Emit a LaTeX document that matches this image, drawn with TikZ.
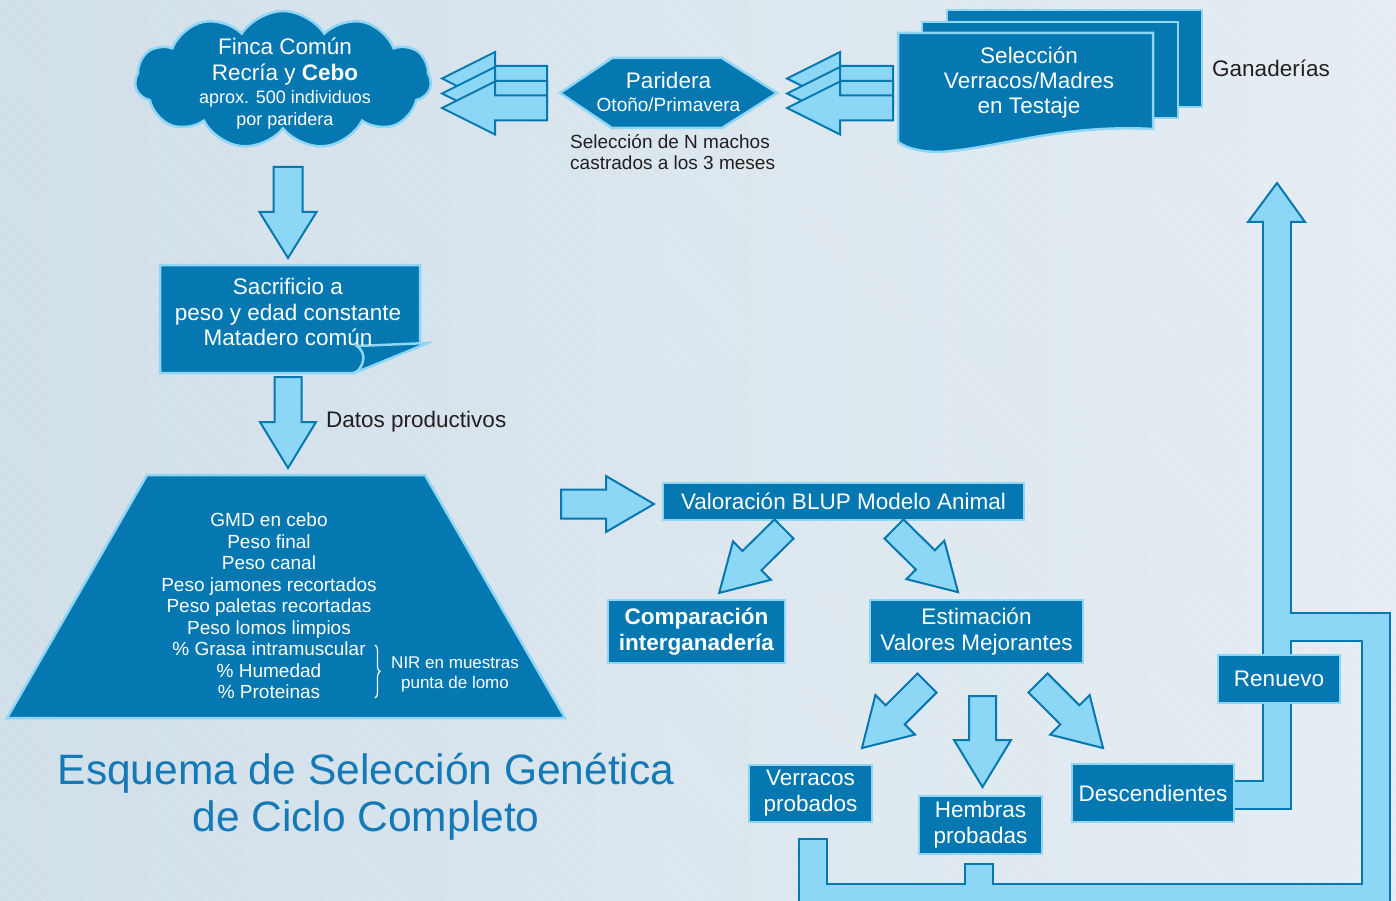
\documentclass[tikz,border=0pt]{standalone}
\usepackage{fontspec}
\setmainfont{Liberation Sans}
\usepackage{tikz}
\usetikzlibrary{shapes.symbols, decorations.pathreplacing}
\definecolor{dblue}{HTML}{0577B1}
\definecolor{lblue}{HTML}{8FD6F5}
\definecolor{ablue}{HTML}{8DD7F6}
\definecolor{tblue}{HTML}{1479B7}
\definecolor{dgray}{HTML}{231F20}
\definecolor{bgl}{HTML}{D1DFE9}
\definecolor{bgr}{HTML}{E5EDF3}

% block arrow: tail point, angle, length, shaft half, head half, head length
\newcommand{\blkarrow}[6]{%
  \draw[blk, shift={#1}, rotate=#2] (0,#4) -- ({#3-#6},#4) -- ({#3-#6},#5) -- (#3,0)
    -- ({#3-#6},-#5) -- ({#3-#6},-#4) -- (0,-#4) -- cycle;}

\begin{document}
\begin{tikzpicture}
    [x=1pt, y=-1pt,
     box/.style={rectangle, fill=dblue, draw=lblue, line width=2.5pt, text=white,
       align=center, inner sep=0pt, font=\fontsize{22.5}{26}\selectfont},
     shapeb/.style={fill=dblue, draw=lblue, line width=2.5pt},
     blk/.style={fill=ablue, draw=dblue, line width=2pt, line join=miter},
     pipeo/.style={line width=30pt, draw=dblue},
     pipei/.style={line width=26pt, draw=ablue},
     note/.style={text=dgray, align=left, inner sep=0pt},
    ]
\clip (0,0) rectangle (1396,901);
\fill[left color=bgl, right color=bgr] (0,0) rectangle (1396,901);
\foreach \i in {-900,-885,...,1400}
  \draw[white, opacity=0.25, line width=0.5pt] (\i,0) -- ++(900,901);

%top row
\node[cloud, cloud puffs=11, cloud puff arc=115, aspect=2.1, fill=dblue, draw=lblue,
  line width=2.5pt, minimum width=296pt, minimum height=138pt] (cloud) at (283,80) {};
\node[text=white, align=center, inner sep=0pt, font=\fontsize{22.5}{26}\selectfont] (cloudtop)
  at (285,62) {Finca Común\\ Recría y \textbf{Cebo}};
\node[text=white, align=center, inner sep=0pt, font=\fontsize{18}{22}\selectfont] (cloudbot)
  at (285,110) {aprox. 500 individuos\\ por paridera};

\draw[shapeb] (560,93) -- (612,58) -- (722,58) -- (777,93) -- (722,128) -- (612,128) -- cycle;
\node[text=white, align=center, inner sep=0pt, font=\fontsize{19}{23}\selectfont] (parid)
  at (668.5,92) {{\fontsize{22.5}{25}\selectfont Paridera}\\ Otoño/Primavera};
\node[note, anchor=north west, font=\fontsize{19}{21.5}\selectfont] (machos) at (570,134)
  {Selección de N machos\\ castrados a los 3 meses};

\draw[shapeb] (947,10) rectangle (1202,107);
\draw[shapeb] (922,22) rectangle (1178,118);
\draw[shapeb] (898,33) -- (1153,33) -- (1153,129) .. controls (1060,124) and (1000,148) .. (940,152)
  .. controls (920,152) and (906,148) .. (898,142) -- cycle;
\node[text=white, align=center, font=\fontsize{22.5}{25}\selectfont] (sel) at (1029,83)
  {Selección\\ Verracos/Madres\\ en Testaje};
\node[note, anchor=west, font=\fontsize{22.5}{26}\selectfont] (ganad) at (1212,68) {Ganaderías};

\blkarrow{(893,78.5)}{180}{106}{12.5}{26.5}{53}
\blkarrow{(893,93.5)}{180}{106}{12.5}{26.5}{53}
\blkarrow{(893,108)}{180}{106}{12.5}{26.5}{53}
\blkarrow{(547,78.5)}{180}{105}{12.5}{26.5}{53}
\blkarrow{(547,93.5)}{180}{105}{12.5}{26.5}{53}
\blkarrow{(547,108)}{180}{105}{12.5}{26.5}{53}

%left column
\blkarrow{(288,167)}{-90}{91}{14.5}{28.5}{46}
\draw[shapeb] (160,265) -- (420,265) -- (420,345) -- (353,373) -- (160,373) -- cycle;
\draw[shapeb] (357,346) .. controls (366,353) and (365,363) .. (357,372) -- (428,343) -- cycle;
\node[text=white, align=center, font=\fontsize{22.5}{25.5}\selectfont] (sacr) at (288,312)
  {Sacrificio a\\ peso y edad constante\\ Matadero común};

\blkarrow{(288,377)}{-90}{91}{13.5}{28}{46}
\node[note, anchor=west, font=\fontsize{22.5}{26}\selectfont] (datos) at (326,422) {Datos productivos};

\draw[shapeb] (147,475) -- (425,475) -- (565,718) -- (7,718) -- cycle;
\node[text=white, align=center, font=\fontsize{19}{21.5}\selectfont] (trap) at (269,606)
  {GMD en cebo\\ Peso final\\ Peso canal\\ Peso jamones recortados\\ Peso paletas recortadas\\
   Peso lomos limpios\\ \% Grasa intramuscular\\ \% Humedad\\ \% Proteinas};
\draw[white, line width=1.2pt, decorate, decoration={brace, amplitude=5pt}] (375,645) -- (375,698);
\node[text=white, align=center, font=\fontsize{17}{20}\selectfont] (nir) at (455,674)
  {NIR en muestras\\ punta de lomo};

\node[text=tblue, align=center, font=\fontsize{42.5}{47}\selectfont] (title) at (366,797)
  {Esquema de Selección Genética\\ de Ciclo Completo};

%evaluation
\blkarrow{(561,504)}{0}{93}{14.5}{28}{48}
\node[box, minimum width=361pt, minimum height=37pt] (valor) at (843.5,501.5)
  {Valoración BLUP Modelo Animal};
\blkarrow{(784,529)}{224.6}{91}{13.5}{27}{46}
\blkarrow{(894,529)}{-44.6}{90}{13.5}{27}{46}
\node[box, minimum width=177pt, minimum height=63pt] (comp) at (696.5,631.5)
  {\textbf{Comparación}\\ \textbf{interganadería}};
\node[box, minimum width=213pt, minimum height=63pt] (estim) at (976.5,631.5)
  {Estimación\\ Valores Mejorantes};
\blkarrow{(927,683)}{225}{92}{13.5}{28}{47}
\blkarrow{(982.5,696)}{-90}{91}{13.5}{28.5}{47}
\blkarrow{(1038,683)}{-45}{92}{13.5}{28}{47}

%pipes
\draw[pipeo] (813,838) -- (813,898) -- (1376,898) -- (1376,627) -- (1277,627);
\draw[pipeo] (979,863) -- (979,898);
\draw[pipeo] (1230,794.5) -- (1277,794.5) -- (1277,222);
\draw[blk] (1248,222) -- (1277,183) -- (1305,222) -- cycle;
\draw[pipei] (813,840) -- (813,898) -- (1376,898) -- (1376,627) -- (1277,627);
\draw[pipei] (979,865) -- (979,898);
\draw[pipei] (1230,794.5) -- (1277,794.5) -- (1277,220);

\node[box, minimum width=123pt, minimum height=57pt] (verr) at (810.5,793.5) {Verracos\\ probados};
\node[box, minimum width=123pt, minimum height=58pt] (hemb) at (980.5,825) {Hembras\\ probadas};
\node[box, minimum width=162pt, minimum height=58pt] (desc) at (1153,793) {Descendientes};
\node[box, minimum width=122pt, minimum height=48pt] (renu) at (1279,679) {Renuevo};

\end{tikzpicture}
\end{document}
